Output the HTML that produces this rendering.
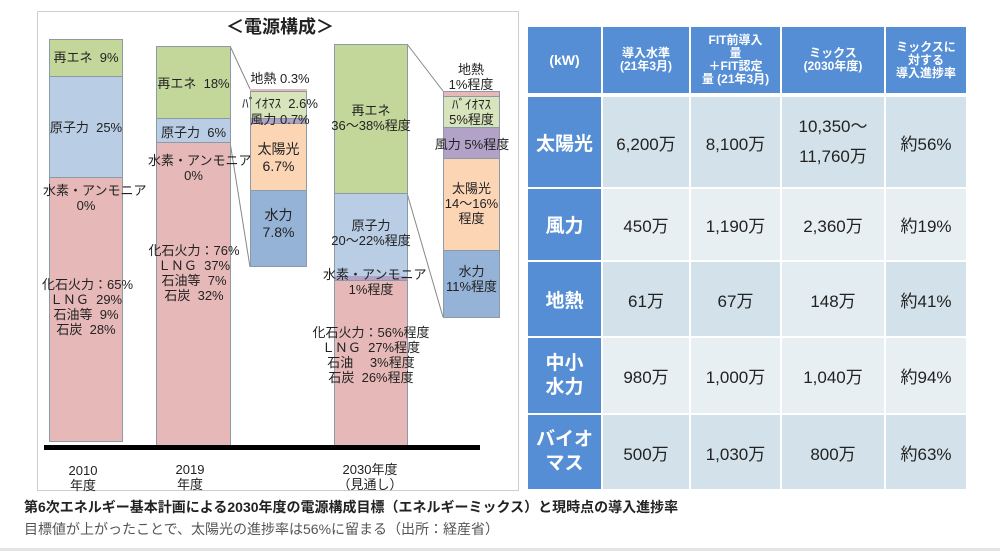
<!DOCTYPE html>
<html><head><meta charset="utf-8"><style>
*{margin:0;padding:0;box-sizing:border-box}
body{width:1000px;height:551px;background:#fff;position:relative;overflow:hidden;font-family:"Liberation Sans","Noto Sans CJK JP",sans-serif;color:#222}
.a{position:absolute}
.t{position:absolute;text-align:center;font-size:13px;line-height:15px;white-space:nowrap}
.g{background:#c4d79b}.b{background:#b9cde5}.r{background:#e6b9b8}.o{background:#fcd5b5}.bl{background:#95b3d7}.p{background:#b3a2c7}.lg{background:#d8e4bc}
.seg{position:absolute;border:1px solid #8c9aa6}
table{position:absolute;left:526px;top:27px;border-collapse:separate;border-spacing:2px 0}
td{text-align:center;font-size:17px;color:#222}
.h{background:#558ed5;color:#fff;font-weight:bold;font-size:12px;line-height:13px}
</style></head><body>
<div class="a" style="left:37px;top:11px;width:482px;height:480px;border:1px solid #c8d0d6"></div>
<div class="t" style="left:200px;top:17px;width:160px;font-size:18px;font-weight:bold;line-height:20px">＜電源構成＞</div>
<svg class="a" style="left:0;top:0" width="520" height="500">
<line x1="230" y1="46" x2="250" y2="89" stroke="#888" stroke-width="1"/>
<line x1="230" y1="142" x2="250" y2="267" stroke="#888" stroke-width="1"/>
<line x1="407" y1="44" x2="443" y2="91" stroke="#888" stroke-width="1"/>
<line x1="407" y1="193" x2="443" y2="317" stroke="#888" stroke-width="1"/>
</svg>
<div class="seg g" style="left:49px;top:39px;width:74px;height:38px"></div>
<div class="seg b" style="left:49px;top:76px;width:74px;height:102px"></div>
<div class="seg r" style="left:49px;top:177px;width:74px;height:265px"></div>
<div class="t" style="left:49px;top:50px;width:74px">再エネ&nbsp; 9%</div>
<div class="t" style="left:45px;top:120px;width:82px">原子力&nbsp; 25%</div>
<div class="t" style="left:43px;top:183px;width:86px">水素・アンモニア<br>0%</div>
<div class="t" style="left:42px;top:277px;width:88px">化石火力：65%<br>ＬＮＧ&nbsp; 29%<br>石油等&nbsp; 9%<br>石炭&nbsp; 28%</div>
<div class="seg g" style="left:156px;top:46px;width:75px;height:73px"></div>
<div class="seg b" style="left:156px;top:118px;width:75px;height:25px"></div>
<div class="seg r" style="left:156px;top:142px;width:75px;height:305px"></div>
<div class="t" style="left:156px;top:76px;width:75px">再エネ&nbsp; 18%</div>
<div class="t" style="left:156px;top:125px;width:75px">原子力&nbsp; 6%</div>
<div class="t" style="left:148px;top:153px;width:91px">水素・アンモニア<br>0%</div>
<div class="t" style="left:142px;top:243px;width:104px">化石火力：76%<br>ＬＮＧ&nbsp; 37%<br>石油等&nbsp; 7%<br>石炭&nbsp; 32%</div>
<div class="a r" style="left:250px;top:89px;width:57px;height:3px"></div>
<div class="seg lg" style="left:250px;top:91px;width:57px;height:28px"></div>
<div class="seg p" style="left:250px;top:118px;width:57px;height:6px"></div>
<div class="seg o" style="left:250px;top:123px;width:57px;height:68px"></div>
<div class="seg bl" style="left:250px;top:190px;width:57px;height:77px"></div>
<div class="t" style="left:238px;top:71px;width:84px">地熱 0.3%</div>
<div class="t" style="left:236px;top:96px;width:88px">ﾊﾞｲｵﾏｽ&nbsp; 2.6%</div>
<div class="t" style="left:238px;top:112px;width:84px">風力 0.7%</div>
<div class="t" style="left:250px;top:141px;width:57px;font-size:14px;line-height:17px">太陽光<br>6.7%</div>
<div class="t" style="left:250px;top:207px;width:57px;font-size:14px;line-height:17px">水力<br>7.8%</div>
<div class="seg g" style="left:334px;top:44px;width:74px;height:150px"></div>
<div class="seg b" style="left:334px;top:193px;width:74px;height:84px"></div>
<div class="a p" style="left:334px;top:276px;width:74px;height:4px"></div>
<div class="seg r" style="left:334px;top:280px;width:74px;height:167px"></div>
<div class="t" style="left:318px;top:103px;width:106px">再エネ<br>36～38%程度</div>
<div class="t" style="left:318px;top:218px;width:106px">原子力<br>20～22%程度</div>
<div class="t" style="left:323px;top:267px;width:96px">水素・アンモニア<br>1%程度</div>
<div class="t" style="left:301px;top:325px;width:140px">化石火力：56%程度<br>ＬＮＧ&nbsp; 27%程度<br>石油　 3%程度<br>石炭&nbsp; 26%程度</div>
<div class="seg r" style="left:443px;top:91px;width:57px;height:6px"></div>
<div class="seg lg" style="left:443px;top:96px;width:57px;height:32px"></div>
<div class="seg p" style="left:443px;top:127px;width:57px;height:32px"></div>
<div class="seg o" style="left:443px;top:158px;width:57px;height:93px"></div>
<div class="seg bl" style="left:443px;top:250px;width:57px;height:68px"></div>
<div class="t" style="left:431px;top:62px;width:80px">地熱<br>1%程度</div>
<div class="t" style="left:443px;top:97px;width:57px">ﾊﾞｲｵﾏｽ<br>5%程度</div>
<div class="t" style="left:432px;top:137px;width:80px">風力 5%程度</div>
<div class="t" style="left:440px;top:181px;width:63px">太陽光<br>14～16%<br>程度</div>
<div class="t" style="left:438px;top:264px;width:67px">水力<br>11%程度</div>
<div class="a" style="left:44px;top:445px;width:436px;height:5px;background:#000"></div>
<div class="t" style="left:58px;top:463px;width:50px">2010<br>年度</div>
<div class="t" style="left:165px;top:462px;width:50px">2019<br>年度</div>
<div class="t" style="left:328px;top:462px;width:84px">2030年度<br>（見通し）</div>
<table>
<tr style="height:66px">
<td class="h" style="width:73px;font-size:14px">(kW)</td>
<td class="h" style="width:86px">導入水準<br>(21年3月)</td>
<td class="h" style="width:89px">FIT前導入<br>量<br>＋FIT認定<br>量 (21年3月)</td>
<td class="h" style="width:102px">ミックス<br>(2030年度)</td>
<td class="h" style="width:80px">ミックスに<br>対する<br>導入進捗率</td></tr>
<tr style="height:4px"><td colspan="5" style="height:4px"></td></tr>
<tr style="height:90px"><td style="background:#558ed5;color:#fff;font-weight:bold;font-size:19px">太陽光</td><td style="background:#d3e2ea">6,200万</td><td style="background:#d3e2ea">8,100万</td><td style="background:#d3e2ea;line-height:30px">10,350～<br>11,760万</td><td style="background:#d3e2ea">約56%</td></tr>
<tr style="height:2px"><td colspan="5" style="height:2px"></td></tr>
<tr style="height:71px"><td style="background:#558ed5;color:#fff;font-weight:bold;font-size:19px">風力</td><td style="background:#e8eff3">450万</td><td style="background:#e8eff3">1,190万</td><td style="background:#e8eff3">2,360万</td><td style="background:#e8eff3">約19%</td></tr>
<tr style="height:2px"><td colspan="5" style="height:2px"></td></tr>
<tr style="height:74px"><td style="background:#558ed5;color:#fff;font-weight:bold;font-size:19px">地熱</td><td style="background:#d3e2ea">61万</td><td style="background:#d3e2ea">67万</td><td style="background:#e3ecf1">148万</td><td style="background:#d3e2ea">約41%</td></tr>
<tr style="height:2px"><td colspan="5" style="height:2px"></td></tr>
<tr style="height:75px"><td style="background:#558ed5;color:#fff;font-weight:bold;font-size:19px;line-height:24px">中小<br>水力</td><td style="background:#e8eff3">980万</td><td style="background:#e8eff3">1,000万</td><td style="background:#e8eff3">1,040万</td><td style="background:#e8eff3">約94%</td></tr>
<tr style="height:2px"><td colspan="5" style="height:2px"></td></tr>
<tr style="height:74px"><td style="background:#558ed5;color:#fff;font-weight:bold;font-size:19px;line-height:24px">バイオ<br>マス</td><td style="background:#d3e2ea">500万</td><td style="background:#d3e2ea">1,030万</td><td style="background:#d3e2ea">800万</td><td style="background:#d3e2ea">約63%</td></tr>
</table>
<div class="a" style="left:24px;top:497px;font-size:14px;font-weight:bold;white-space:nowrap;color:#222">第6次エネルギー基本計画による2030年度の電源構成目標（エネルギーミックス）と現時点の導入進捗率</div>
<div class="a" style="left:24px;top:519px;font-size:14px;white-space:nowrap;color:#555">目標値が上がったことで、太陽光の進捗率は56%に留まる（出所：経産省）</div>
<div class="a" style="left:0;top:548px;width:1000px;height:3px;background:#e4e4e4"></div>
</body></html>
